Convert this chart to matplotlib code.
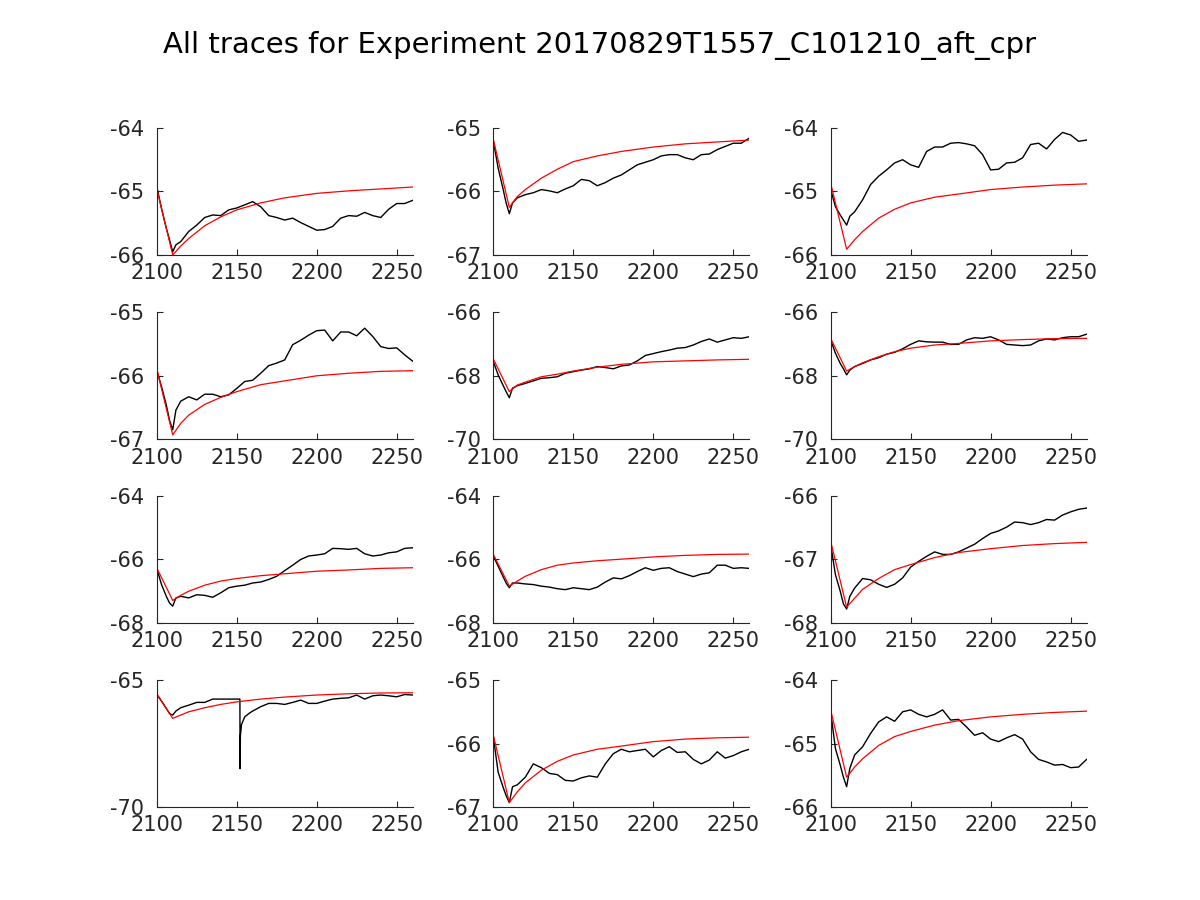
import matplotlib
matplotlib.use("Agg")
import matplotlib.pyplot as plt

TITLE = "All traces for Experiment 20170829T1557_C101210_aft_cpr"

# shared time grid for the recorded traces (panel 10 has its own because of the spike)
TRACE_X = [2100, 2103, 2106, 2108, 2110, 2112, 2115, 2120, 2125, 2130, 2135, 2140,
           2145, 2150, 2155, 2160, 2165, 2170, 2175, 2180, 2185, 2190, 2195, 2200,
           2205, 2210, 2215, 2220, 2225, 2230, 2235, 2240, 2245, 2250, 2255, 2260]
TRACE10_X = [2100, 2103, 2106, 2108, 2110, 2112, 2115, 2120, 2125, 2130, 2135, 2140,
             2145, 2150, 2152, 2152.1, 2152.3, 2153, 2155, 2158, 2160, 2165, 2170,
             2175, 2180, 2185, 2190, 2195, 2200, 2205, 2210, 2215, 2220, 2225, 2230,
             2235, 2240, 2245, 2250, 2255, 2260]
FIT_X = [2100, 2110, 2115, 2120, 2130, 2140, 2150, 2165, 2180, 2200, 2220, 2240, 2260]

trace1 = [-64.92, -65.27, -65.58, -65.76, -65.95, -65.84, -65.79, -65.63, -65.53, -65.41,
          -65.37, -65.38, -65.29, -65.26, -65.21, -65.16, -65.24, -65.38, -65.41, -65.45,
          -65.42, -65.49, -65.55, -65.61, -65.60, -65.55, -65.42, -65.38, -65.39, -65.33,
          -65.38, -65.41, -65.28, -65.19, -65.19, -65.14]
trace2 = [-65.20, -65.63, -65.95, -66.18, -66.35, -66.18, -66.10, -66.05, -66.02, -65.97,
          -65.99, -66.02, -65.96, -65.91, -65.81, -65.83, -65.91, -65.86, -65.79, -65.74,
          -65.66, -65.58, -65.54, -65.50, -65.44, -65.42, -65.42, -65.47, -65.50, -65.42,
          -65.41, -65.34, -65.29, -65.24, -65.24, -65.16]
trace3 = [-64.97, -65.24, -65.37, -65.45, -65.53, -65.39, -65.32, -65.13, -64.89, -64.76,
          -64.66, -64.55, -64.50, -64.58, -64.62, -64.37, -64.30, -64.30, -64.24, -64.23,
          -64.25, -64.28, -64.42, -64.66, -64.65, -64.55, -64.54, -64.47, -64.26, -64.24,
          -64.33, -64.18, -64.07, -64.11, -64.21, -64.19]
trace4 = [-65.91, -66.17, -66.46, -66.70, -66.85, -66.54, -66.40, -66.33, -66.38, -66.29,
          -66.29, -66.33, -66.30, -66.20, -66.09, -66.07, -65.96, -65.84, -65.80, -65.75,
          -65.51, -65.44, -65.36, -65.29, -65.28, -65.45, -65.31, -65.31, -65.37, -65.25,
          -65.38, -65.54, -65.57, -65.56, -65.67, -65.77]
trace5 = [-67.55, -67.97, -68.29, -68.50, -68.69, -68.39, -68.31, -68.24, -68.16, -68.08,
          -68.06, -68.03, -67.92, -67.87, -67.82, -67.78, -67.71, -67.74, -67.78, -67.69,
          -67.66, -67.53, -67.36, -67.30, -67.24, -67.19, -67.13, -67.11, -67.03, -66.92,
          -66.84, -66.94, -66.87, -66.80, -66.82, -66.77]
trace6 = [-66.87, -67.29, -67.61, -67.78, -67.97, -67.82, -67.71, -67.61, -67.50, -67.43,
          -67.32, -67.26, -67.15, -67.01, -66.90, -66.93, -66.94, -66.94, -67.01, -67.01,
          -66.87, -66.80, -66.82, -66.77, -66.87, -67.01, -67.03, -67.05, -67.03, -66.90,
          -66.84, -66.87, -66.80, -66.77, -66.77, -66.69]
trace7 = [-66.28, -66.79, -67.16, -67.37, -67.47, -67.21, -67.16, -67.21, -67.11, -67.13,
          -67.19, -67.05, -66.89, -66.84, -66.81, -66.74, -66.71, -66.63, -66.53, -66.35,
          -66.18, -66.00, -65.89, -65.86, -65.82, -65.65, -65.66, -65.68, -65.65, -65.82,
          -65.89, -65.86, -65.79, -65.76, -65.65, -65.63]
trace8 = [-65.89, -66.21, -66.53, -66.74, -66.89, -66.74, -66.74, -66.77, -66.79, -66.84,
          -66.87, -66.92, -66.95, -66.89, -66.92, -66.95, -66.87, -66.71, -66.58, -66.61,
          -66.51, -66.38, -66.26, -66.34, -66.28, -66.26, -66.38, -66.46, -66.54, -66.46,
          -66.42, -66.18, -66.18, -66.28, -66.26, -66.28]
trace9 = [-66.76, -67.24, -67.50, -67.70, -67.78, -67.58, -67.45, -67.30, -67.32, -67.39,
          -67.44, -67.39, -67.29, -67.12, -67.03, -66.95, -66.88, -66.92, -66.92, -66.88,
          -66.82, -66.76, -66.67, -66.59, -66.55, -66.49, -66.41, -66.42, -66.45, -66.42,
          -66.37, -66.38, -66.30, -66.25, -66.21, -66.19]
trace10 = [-65.57, -65.83, -66.12, -66.32, -66.38, -66.22, -66.09, -65.99, -65.88, -65.88,
           -65.75, -65.75, -65.75, -65.75, -65.75, -68.49, -67.20, -66.75, -66.45, -66.30,
           -66.22, -66.05, -65.92, -65.92, -65.96, -65.88, -65.79, -65.92, -65.92, -65.83,
           -65.75, -65.72, -65.70, -65.59, -65.75, -65.62, -65.59, -65.62, -65.66, -65.57,
           -65.59]
trace11 = [-65.89, -66.45, -66.68, -66.82, -66.93, -66.68, -66.65, -66.53, -66.32, -66.38,
           -66.47, -66.49, -66.58, -66.59, -66.54, -66.51, -66.53, -66.32, -66.16, -66.09,
           -66.13, -66.11, -66.09, -66.21, -66.11, -66.05, -66.14, -66.13, -66.25, -66.32,
           -66.26, -66.13, -66.23, -66.19, -66.13, -66.09]
trace12 = [-64.50, -65.08, -65.34, -65.53, -65.68, -65.39, -65.18, -65.05, -64.84, -64.66,
           -64.58, -64.65, -64.50, -64.47, -64.54, -64.58, -64.54, -64.47, -64.63, -64.62,
           -64.74, -64.87, -64.83, -64.93, -64.97, -64.91, -64.86, -64.93, -65.13, -65.25,
           -65.29, -65.34, -65.33, -65.38, -65.37, -65.25]

fit1 = [-64.95, -66.00, -65.86, -65.74, -65.54, -65.40, -65.29, -65.18, -65.10, -65.03, -64.99, -64.96, -64.93]
fit2 = [-65.18, -66.25, -66.08, -65.97, -65.79, -65.65, -65.53, -65.44, -65.37, -65.30, -65.25, -65.22, -65.19]
fit3 = [-64.87, -65.91, -65.76, -65.63, -65.42, -65.28, -65.18, -65.09, -65.04, -64.97, -64.93, -64.90, -64.88]
fit4 = [-65.89, -66.93, -66.75, -66.62, -66.45, -66.34, -66.25, -66.14, -66.08, -66.00, -65.96, -65.93, -65.92]
fit5 = [-67.47, -68.50, -68.29, -68.20, -68.03, -67.95, -67.85, -67.73, -67.64, -67.56, -67.53, -67.50, -67.48]
fit6 = [-66.82, -67.85, -67.71, -67.59, -67.40, -67.24, -67.13, -67.03, -66.98, -66.90, -66.86, -66.83, -66.82]
fit7 = [-66.26, -67.29, -67.13, -67.00, -66.81, -66.68, -66.60, -66.51, -66.45, -66.37, -66.33, -66.28, -66.26]
fit8 = [-65.84, -66.84, -66.68, -66.53, -66.32, -66.18, -66.11, -66.04, -65.99, -65.92, -65.87, -65.84, -65.83]
fit9 = [-66.71, -67.75, -67.61, -67.47, -67.30, -67.16, -67.08, -66.97, -66.89, -66.83, -66.78, -66.75, -66.73]
fit10 = [-65.53, -66.51, -66.38, -66.25, -66.09, -65.96, -65.86, -65.75, -65.67, -65.59, -65.54, -65.51, -65.50]
fit11 = [-65.87, -66.93, -66.76, -66.62, -66.42, -66.28, -66.18, -66.09, -66.04, -65.97, -65.93, -65.91, -65.90]
fit12 = [-64.47, -65.53, -65.37, -65.24, -65.03, -64.89, -64.81, -64.71, -64.64, -64.58, -64.54, -64.51, -64.49]

YLIMS = [(-66, -64), (-67, -65), (-66, -64),
         (-67, -65), (-70, -66), (-70, -66),
         (-68, -64), (-68, -64), (-68, -66),
         (-70, -65), (-67, -65), (-66, -64)]
YTICKS = [[-66, -65, -64], [-67, -66, -65], [-66, -65, -64],
          [-67, -66, -65], [-70, -68, -66], [-70, -68, -66],
          [-68, -66, -64], [-68, -66, -64], [-68, -67, -66],
          [-70, -65], [-67, -66, -65], [-66, -65, -64]]
XTICKS = [2100, 2150, 2200, 2250]

traces = [trace1, trace2, trace3, trace4, trace5, trace6,
          trace7, trace8, trace9, trace10, trace11, trace12]
fits = [fit1, fit2, fit3, fit4, fit5, fit6, fit7, fit8, fit9, fit10, fit11, fit12]

plt.rcParams["axes.unicode_minus"] = False
plt.rcParams["font.family"] = "DejaVu Sans"
AX_COLOR = "#262626"

fig = plt.figure(figsize=(12, 9), dpi=100)
lefts = [0.1306, 0.4111, 0.6922]
bottoms = [0.7167, 0.5119, 0.3078, 0.1033]
w, h = 0.2133, 0.1411

for i in range(12):
    r, c = divmod(i, 3)
    ax = fig.add_axes([lefts[c], bottoms[r], w, h])
    tx = TRACE10_X if i == 9 else TRACE_X
    ax.plot(tx, traces[i], color="black", lw=1.0)
    ax.plot(FIT_X, fits[i], color="red", lw=0.9)
    ax.set_xlim(2100, 2260)
    ax.set_ylim(*YLIMS[i])
    ax.set_xticks(XTICKS)
    ax.set_yticks(YTICKS[i])
    ax.set_yticklabels([str(t) for t in YTICKS[i]])
    for s in ("top", "right"):
        ax.spines[s].set_visible(False)
    for s in ("left", "bottom"):
        ax.spines[s].set_color(AX_COLOR)
        ax.spines[s].set_linewidth(0.8)
    ax.tick_params(direction="in", length=4, width=0.8, colors=AX_COLOR,
                   labelsize=15, labelcolor=AX_COLOR)
    ax.tick_params(axis="x", pad=6)
    ax.tick_params(axis="y", pad=9)

fig.suptitle(TITLE, x=0.5, y=0.95, va="center", fontsize=21, color="black")
fig.savefig("out.png", dpi=100)
